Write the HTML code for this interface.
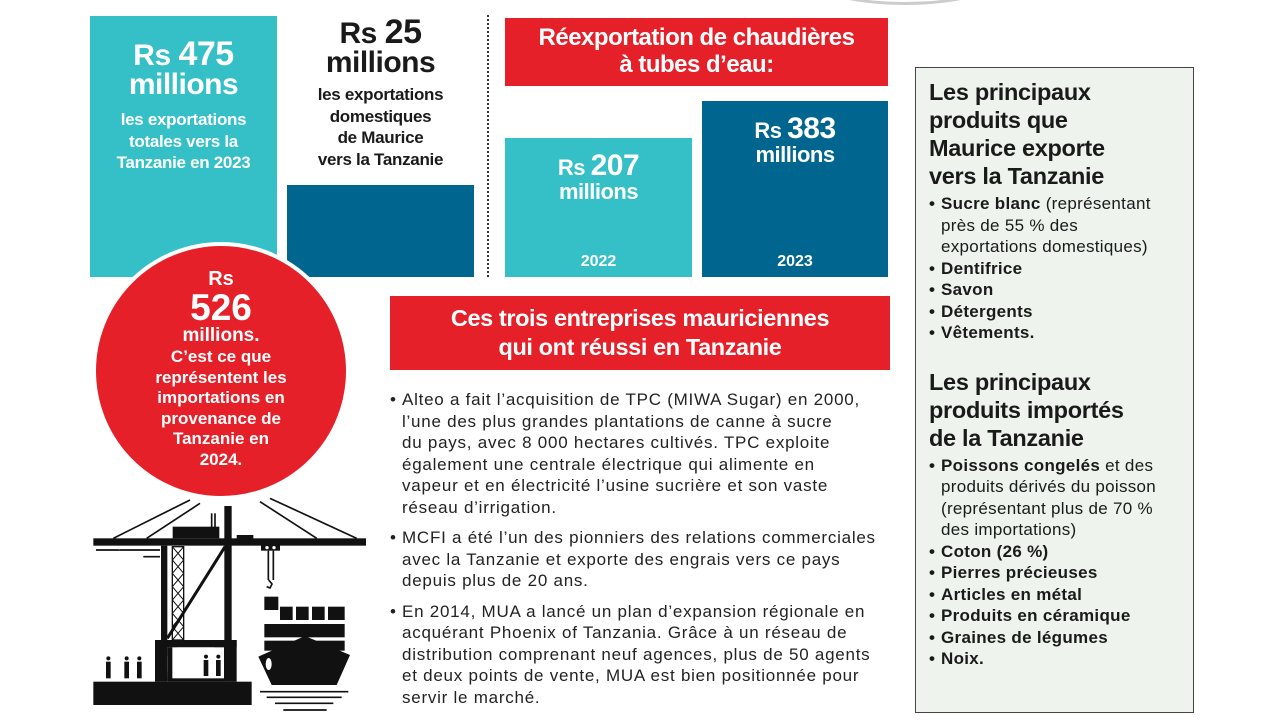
<!DOCTYPE html>
<html><head><meta charset="utf-8"><style>
*{margin:0;padding:0;box-sizing:border-box}
body{width:1280px;height:720px;background:#fff;position:relative;overflow:hidden;font-family:"Liberation Sans",sans-serif;color:#1a1a1a}
.a{position:absolute}
.c{text-align:center}
.b{font-weight:bold}
.w{color:#fff}
.teal{background:#35bfc6}
.navy{background:#006690}
.red{background:#e52028}
.big{font-size:30px;font-weight:bold;line-height:29px;letter-spacing:-0.5px}
.big .n{font-size:34px}
.bul{font-size:17px;line-height:21.5px;color:#222;letter-spacing:0.75px;white-space:nowrap}
.bul p{position:relative;padding-left:12px;margin-bottom:9px}
.bul p:before{content:"•";position:absolute;left:0}
.rp h2{font-size:23.5px;line-height:28px;font-weight:bold;letter-spacing:-0.3px}
.rp ul{list-style:none;font-size:17px;line-height:21.5px;white-space:nowrap;letter-spacing:0.3px}
.rp li{padding-left:12px;position:relative}
.rp li:before{content:"•";position:absolute;left:0;font-weight:bold}
</style></head><body>
<div class="a" style="left:800px;top:-60px;width:210px;height:65px;border-radius:50%;border:3px solid #ccc"></div>

<div class="a teal" style="left:90px;top:16px;width:187px;height:261px"></div>
<div class="a c w" style="left:90px;top:40px;width:187px">
 <div class="big">Rs <span class="n">475</span><br>millions</div>
 <div class="b" style="font-size:17px;line-height:21.5px;margin-top:10px;letter-spacing:-0.3px">les exportations<br>totales vers la<br>Tanzanie en 2023</div>
</div>

<div class="a c" style="left:277px;top:18px;width:207px">
 <div class="big">Rs <span class="n">25</span><br>millions</div>
 <div class="b" style="font-size:17px;line-height:21.5px;margin-top:7px;letter-spacing:-0.3px">les exportations<br>domestiques<br>de Maurice<br>vers la Tanzanie</div>
</div>
<div class="a navy" style="left:287px;top:185px;width:187px;height:92px"></div>
<div class="a" style="left:487px;top:15px;height:262px;border-left:2px dotted #333"></div>

<div class="a red c w b" style="left:505px;top:18px;width:383px;height:68px;font-size:24px;line-height:27px;padding-top:6px;letter-spacing:-0.5px">Réexportation de chaudières<br>à tubes d’eau:</div>
<div class="a teal c w" style="left:505px;top:138px;width:187px;height:139px;padding-top:16px">
 <div class="big" style="font-size:22px;line-height:24px">Rs <span class="n" style="font-size:30px">207</span><br>millions</div>
 <div class="b a" style="left:0;width:187px;top:115px;font-size:16px">2022</div>
</div>
<div class="a navy c w" style="left:702px;top:101px;width:186px;height:176px;padding-top:16px">
 <div class="big" style="font-size:22px;line-height:24px">Rs <span class="n" style="font-size:30px">383</span><br>millions</div>
 <div class="b a" style="left:0;width:186px;top:152px;font-size:16px">2023</div>
</div>

<svg class="a" style="left:80px;top:380px" width="320" height="340" viewBox="0 0 960 1020">
 <g stroke="#111" stroke-width="5" fill="none">
  <line x1="330" y1="360" x2="100" y2="475"/><line x1="360" y1="370" x2="200" y2="475"/>
  <line x1="540" y1="365" x2="710" y2="475"/><line x1="570" y1="355" x2="830" y2="475"/>
  <line x1="48" y1="510" x2="240" y2="510"/><line x1="190" y1="530" x2="240" y2="530"/>
  <line x1="435" y1="500" x2="262" y2="775" stroke-width="9"/>
  <line x1="395" y1="400" x2="395" y2="445"/><line x1="405" y1="400" x2="405" y2="445"/>
  <line x1="565" y1="512" x2="565" y2="600"/><line x1="580" y1="512" x2="580" y2="600"/>
  <line x1="540" y1="935" x2="805" y2="935"/><line x1="560" y1="952" x2="785" y2="952"/>
  <line x1="585" y1="970" x2="760" y2="970"/><line x1="610" y1="990" x2="740" y2="990"/>
  <rect x="277" y="500" width="34" height="280" stroke-width="4"/>
  <path d="M277 500 L311 540 L277 580 L311 620 L277 660 L311 700 L277 740 L311 780 M311 500 L277 540 L311 580 L277 620 L311 660 L277 700 L311 740 L277 780" stroke-width="3"/>
  <path d="M566 600 l10 12 l-6 12 l-10 -4" stroke-width="5"/>
 </g>
 <g fill="#111">
  <rect x="40" y="475" width="818" height="22"/>
  <rect x="278" y="440" width="140" height="35"/>
  <rect x="433" y="378" width="22" height="420"/>
  <rect x="470" y="465" width="50" height="12"/>
  <rect x="543" y="495" width="57" height="17"/>
  <rect x="243" y="497" width="19" height="300"/>
  <rect x="225" y="780" width="245" height="22"/>
  <rect x="225" y="780" width="37" height="125"/><rect x="432" y="780" width="38" height="125"/>
  <rect x="40" y="905" width="475" height="70"/>
  <rect x="553" y="650" width="42" height="40"/>
  <rect x="600" y="680" width="38" height="40"/><rect x="648" y="680" width="38" height="40"/><rect x="696" y="680" width="38" height="40"/><rect x="744" y="680" width="50" height="40"/>
  <rect x="553" y="732" width="241" height="40"/>
  <rect x="553" y="782" width="241" height="30"/>
  <path d="M535 830 L675 768 L810 825 L770 915 L575 915 Z"/>
  <circle cx="85" cy="835" r="6"/><rect x="78" y="845" width="14" height="50"/>
  <circle cx="140" cy="835" r="6"/><rect x="133" y="845" width="14" height="50"/>
  <circle cx="178" cy="835" r="6"/><rect x="171" y="845" width="14" height="50"/>
 </g>
 <g fill="#fff"><ellipse cx="566" cy="852" rx="9" ry="18"/><rect x="262" y="802" width="170" height="100" rx="30"/>
  <circle cx="118" cy="503" r="5"/><circle cx="561" cy="503" r="5"/><circle cx="582" cy="503" r="5"/></g>
 <g fill="#111"><circle cx="378" cy="830" r="6"/><rect x="371" y="840" width="14" height="48"/>
   <circle cx="415" cy="830" r="6"/><rect x="408" y="840" width="14" height="48"/>
   <rect x="262" y="802" width="15" height="100"/><rect x="262" y="895" width="170" height="10"/></g>
</svg>

<div class="a red c w" style="left:92px;top:242px;width:258px;height:258px;border-radius:50%;border:4px solid #fff;padding-top:22px;letter-spacing:0px">
 <div class="b" style="font-size:20px;line-height:22px">Rs</div>
 <div class="b" style="font-size:37px;line-height:35px">526</div>
 <div class="b" style="font-size:19px;line-height:22px">millions.</div>
 <div class="b" style="font-size:17px;line-height:20.5px">C’est ce que<br>représentent les<br>importations en<br>provenance de<br>Tanzanie en<br>2024.</div>
</div>

<div class="a red c w b" style="left:390px;top:296px;width:500px;height:74px;font-size:23.5px;line-height:29px;padding-top:8px;letter-spacing:-0.4px">Ces trois entreprises mauriciennes<br>qui ont réussi en Tanzanie</div>

<div class="a bul" style="left:390px;top:389px;width:510px">
 <p>Alteo a fait l’acquisition de TPC (MIWA Sugar) en 2000,<br>l’une des plus grandes plantations de canne à sucre<br>du pays, avec 8 000 hectares cultivés. TPC exploite<br>également une centrale électrique qui alimente en<br>vapeur et en électricité l’usine sucrière et son vaste<br>réseau d’irrigation.</p>
 <p>MCFI a été l’un des pionniers des relations commerciales<br>avec la Tanzanie et exporte des engrais vers ce pays<br>depuis plus de 20 ans.</p>
 <p>En 2014, MUA a lancé un plan d’expansion régionale en<br>acquérant Phoenix of Tanzania. Grâce à un réseau de<br>distribution comprenant neuf agences, plus de 50 agents<br>et deux points de vente, MUA est bien positionnée pour<br>servir le marché.</p>
</div>

<div class="a rp" style="left:915px;top:67px;width:279px;height:646px;background:#eef3ee;border:1.5px solid #444;padding:10px 0 0 13px">
 <h2>Les principaux<br>produits que<br>Maurice exporte<br>vers la Tanzanie</h2>
 <ul style="margin-top:3px">
  <li><b>Sucre blanc</b> (représentant<br>près de 55 % des<br>exportations domestiques)</li>
  <li><b>Dentifrice</b></li><li><b>Savon</b></li><li><b>Détergents</b></li><li><b>Vêtements.</b></li>
 </ul>
 <h2 style="margin-top:24px">Les principaux<br>produits importés<br>de la Tanzanie</h2>
 <ul style="margin-top:3px">
  <li><b>Poissons congelés</b> et des<br>produits dérivés du poisson<br>(représentant plus de 70 %<br>des importations)</li>
  <li><b>Coton (26 %)</b></li><li><b>Pierres précieuses</b></li><li><b>Articles en métal</b></li><li><b>Produits en céramique</b></li><li><b>Graines de légumes</b></li><li><b>Noix.</b></li>
 </ul>
</div>
</body></html>
